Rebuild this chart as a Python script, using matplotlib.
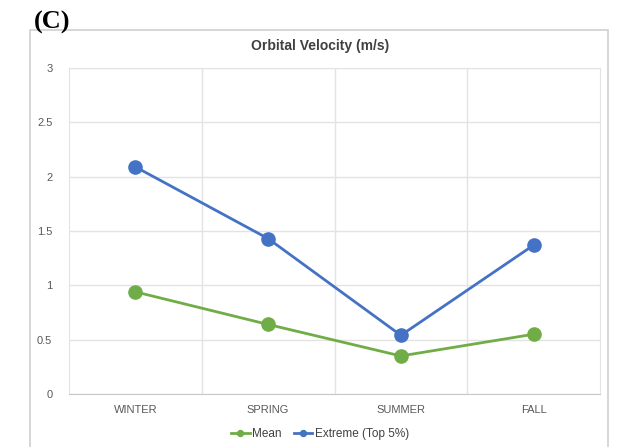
import matplotlib.pyplot as plt
from matplotlib.patches import Rectangle

seasons = ["WINTER", "SPRING", "SUMMER", "FALL"]
mean_vel = [0.94, 0.64, 0.35, 0.55]
extreme_vel = [2.09, 1.43, 0.54, 1.37]
y_ticks = [0, 0.5, 1, 1.5, 2, 2.5, 3]

green = "#70AD47"
blue = "#4472C4"
grid = "#E3E3E3"
txt = "#595959"

plt.rcParams["font.family"] = ["Liberation Sans", "DejaVu Sans"]

fig = plt.figure(figsize=(6.18, 4.47), dpi=100)
W, H = 618, 447

# chart frame
fig.patches.append(Rectangle((30 / W, -0.01), 578 / W, (H - 30) / H + 0.01,
                             transform=fig.transFigure, fill=False,
                             edgecolor="#D0D0D0", linewidth=1.2))

ax = fig.add_axes([69 / W, (H - 394) / H, 531 / W, 326 / H])
x = list(range(len(seasons)))
ax.plot(x, mean_vel, color=green, lw=2, marker="o", ms=9.5, label="Mean")
ax.plot(x, extreme_vel, color=blue, lw=2, marker="o", ms=9.5,
        label="Extreme (Top 5%)")

ax.set_xlim(-0.5, 3.5)
ax.set_ylim(0, 3)
ax.set_yticks(y_ticks)
ax.set_yticklabels(["0", "0.5", "1", "1.5", "2", "2.5", "3"])
ax.set_xticks(x)
ax.set_xticklabels(seasons)
ax.set_xticks([0.5, 1.5, 2.5], minor=True)
ax.grid(True, axis="y", color=grid, lw=1)
ax.grid(True, axis="x", which="minor", color=grid, lw=1)
ax.tick_params(axis="both", which="both", length=0, colors=txt, labelsize=8)
ax.tick_params(axis="y", pad=12)
ax.tick_params(axis="x", pad=8)
for s in ax.spines.values():
    s.set_color(grid)
ax.spines["bottom"].set_color("#C8C8C8")
ax.set_axisbelow(True)

fig.text(320 / W, 1 - 46 / H, "Orbital Velocity (m/s)", ha="center",
         va="center", fontsize=10, color="#404040", fontweight="bold")
fig.text(34 / W, 1 - 22 / H, "(C)", ha="left", va="center", fontsize=19,
         fontweight="bold", family="Liberation Serif")

fig.legend(loc="center", bbox_to_anchor=(320 / W, 1 - 434 / H), ncol=2,
           frameon=False, fontsize=8.5, handlelength=1.6, markerscale=0.45,
           columnspacing=1.0, handletextpad=0.2, labelcolor="#404040")

fig.savefig("out.png", dpi=100)
